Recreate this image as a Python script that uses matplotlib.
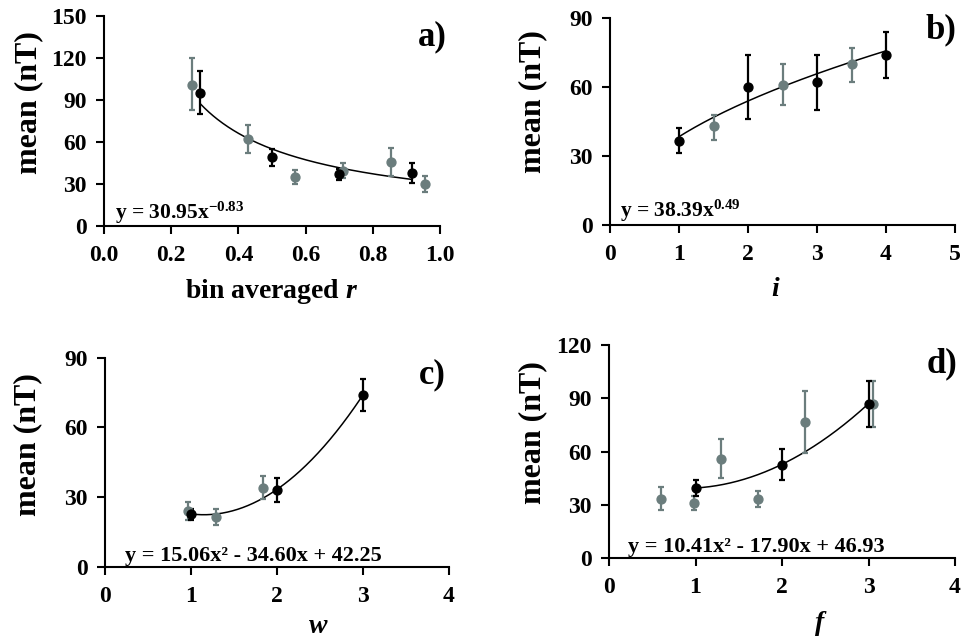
import numpy as np
import matplotlib
matplotlib.use("Agg")
import matplotlib.pyplot as plt

plt.rcParams['font.family'] = ['Liberation Serif', 'DejaVu Serif']
plt.rcParams['font.weight'] = 'bold'
plt.rcParams['mathtext.fontset'] = 'custom'
plt.rcParams['mathtext.rm'] = 'Liberation Serif:bold'
plt.rcParams['mathtext.bf'] = 'Liberation Serif:bold'
plt.rcParams['mathtext.it'] = 'Liberation Serif:bold:italic'

GRAY = '#6b7d7d'

# ---- panel a) ----
a_gray_x = [0.263, 0.43, 0.567, 0.71, 0.855, 0.955]
a_gray_y = [101, 62, 35, 39, 46, 30]
a_gray_lo = [83, 52, 30, 34, 36, 24]
a_gray_hi = [120, 72, 40, 45, 56, 36]
a_blk_x = [0.287, 0.50, 0.70, 0.917]
a_blk_y = [95, 49, 37, 38]
a_blk_lo = [80, 43, 33, 31]
a_blk_hi = [111, 55, 41, 45]
a_fit = [30.95, -0.83]  # power law coefficients

# ---- panel b) ----
b_gray_x = [1.5, 2.5, 3.5]
b_gray_y = [43, 61, 70]
b_gray_lo = [37, 52, 62]
b_gray_hi = [48, 70, 77]
b_blk_x = [1, 2, 3, 4]
b_blk_y = [36.5, 60, 62, 74]
b_blk_lo = [31.5, 46, 50, 64]
b_blk_hi = [42, 74, 74, 84]
b_fit = [38.39, 0.49]

# ---- panel c) ----
c_gray_x = [0.97, 1.29, 1.84]
c_gray_y = [24, 21.5, 34]
c_gray_lo = [20, 18, 29]
c_gray_hi = [28, 25, 39]
c_blk_x = [1, 2, 3]
c_blk_y = [22.5, 33, 74]
c_blk_lo = [20, 28, 67]
c_blk_hi = [25, 38, 81]
c_fit = [15.06, -34.60, 42.25]

# ---- panel d) ----
d_gray_x = [0.6, 0.98, 1.3, 1.72, 2.27, 3.05]
d_gray_y = [33.5, 31, 56, 33.5, 76.5, 87]
d_gray_lo = [27, 27, 45, 29, 59, 74]
d_gray_hi = [40, 35, 67, 38, 94, 100]
d_blk_x = [1, 2, 3]
d_blk_y = [39.5, 52.5, 87]
d_blk_lo = [35, 44, 74]
d_blk_hi = [44, 61.5, 100]
d_fit = [10.41, -17.90, 46.93]

a_xticks = [0.0, 0.2, 0.4, 0.6, 0.8, 1.0]
a_xticklabels = ['0.0', '0.2', '0.4', '0.6', '0.8', '1.0']
a_yticks = [0, 30, 60, 90, 120, 150]
b_xticks = [0, 1, 2, 3, 4, 5]
b_yticks = [0, 30, 60, 90]
c_xticks = [0, 1, 2, 3, 4]
c_yticks = [0, 30, 60, 90]
d_xticks = [0, 1, 2, 3, 4]
d_yticks = [0, 30, 60, 90, 120]

W, H = 963, 639
fig = plt.figure(figsize=(W / 100, H / 100), dpi=100)


def make_ax(l, r, t, b):
    return fig.add_axes([l / W, 1 - b / H, (r - l) / W, (b - t) / H])


def style(ax, xlim, ylim, xticks, yticks, xticklabels=None):
    ax.set_xlim(*xlim)
    ax.set_ylim(*ylim)
    ax.set_xticks(xticks)
    if xticklabels is not None:
        ax.set_xticklabels(xticklabels)
    ax.set_yticks(yticks)
    for s in ['top', 'right']:
        ax.spines[s].set_visible(False)
    for s in ['left', 'bottom']:
        ax.spines[s].set_linewidth(1.5)
    ax.tick_params(axis='both', direction='out', length=5.5, width=1.5,
                   labelsize=17)
    ax.tick_params(axis='x', pad=8.5)
    ax.tick_params(axis='y', pad=7)
    for lab in ax.get_xticklabels() + ax.get_yticklabels():
        lab.set_fontweight('bold')
    ax.set_facecolor('none')


def points(ax, x, y, lo, hi, color):
    y = np.asarray(y, float)
    err = [y - np.asarray(lo, float), np.asarray(hi, float) - y]
    ax.errorbar(x, y, yerr=err, fmt='o', color=color, ecolor=color,
                markersize=6.4, elinewidth=1.6, capsize=2.2, capthick=1.6,
                zorder=3)


def ylab(ax, xf, yf):
    ax.set_ylabel('mean (nT)', fontsize=23, fontweight='bold')
    ax.yaxis.set_label_coords(xf, yf)
    ax.yaxis.label.set_va('center')


# ---------- a ----------
ax = make_ax(104, 440, 16, 226)
style(ax, (0, 1), (0, 150), a_xticks, a_yticks, a_xticklabels)
points(ax, a_gray_x, a_gray_y, a_gray_lo, a_gray_hi, GRAY)
points(ax, a_blk_x, a_blk_y, a_blk_lo, a_blk_hi, 'black')
xx = np.linspace(min(a_blk_x), max(a_blk_x), 200)
ax.plot(xx, a_fit[0] * xx ** a_fit[1], color='black', lw=1.1, zorder=2)
ax.text(0.033, 0.033, r'y = 30.95x$^{\mathrm{-0.83}}$', transform=ax.transAxes,
        fontsize=15.5, fontweight='bold', va='baseline', ha='left')
ax.text(0.976, 0.90, 'a)', transform=ax.transAxes, fontsize=25,
        fontweight='bold', ha='center', va='center')
ylab(ax, -0.223, 0.586)
ax.set_xlabel('bin averaged $\\mathit{r}$', fontsize=20, fontweight='bold')
ax.xaxis.set_label_coords(0.5, -0.243)

# ---------- b ----------
ax = make_ax(610, 955, 18, 225)
style(ax, (0, 5), (0, 90), b_xticks, b_yticks)
points(ax, b_gray_x, b_gray_y, b_gray_lo, b_gray_hi, GRAY)
points(ax, b_blk_x, b_blk_y, b_blk_lo, b_blk_hi, 'black')
xx = np.linspace(min(b_blk_x), max(b_blk_x), 200)
ax.plot(xx, b_fit[0] * xx ** b_fit[1], color='black', lw=1.1, zorder=2)
ax.text(0.029, 0.039, r'y = 38.39x$^{\mathrm{0.49}}$', transform=ax.transAxes,
        fontsize=15.5, fontweight='bold', va='baseline', ha='left')
ax.text(0.96, 0.942, 'b)', transform=ax.transAxes, fontsize=25,
        fontweight='bold', ha='center', va='center')
ylab(ax, -0.223, 0.594)
ax.set_xlabel('i', fontsize=20, fontweight='bold', style='italic')
ax.xaxis.set_label_coords(0.478, -0.25)

# ---------- c ----------
ax = make_ax(105, 449, 357.7, 566.7)
style(ax, (0, 4), (0, 90), c_xticks, c_yticks)
points(ax, c_gray_x, c_gray_y, c_gray_lo, c_gray_hi, GRAY)
points(ax, c_blk_x, c_blk_y, c_blk_lo, c_blk_hi, 'black')
xx = np.linspace(min(c_blk_x), max(c_blk_x), 200)
ax.plot(xx, np.polyval(c_fit, xx), color='black', lw=1.1, zorder=2)
ax.text(0.058, 0.029, 'y = 15.06x² - 34.60x + 42.25', transform=ax.transAxes,
        fontsize=16, fontweight='bold', va='baseline', ha='left')
ax.text(0.951, 0.917, 'c)', transform=ax.transAxes, fontsize=25,
        fontweight='bold', ha='center', va='center')
ylab(ax, -0.224, 0.582)
ax.set_xlabel('w', fontsize=20, fontweight='bold', style='italic')
ax.xaxis.set_label_coords(0.619, -0.228)

# ---------- d ----------
ax = make_ax(609, 955, 345, 558)
style(ax, (0, 4), (0, 120), d_xticks, d_yticks)
points(ax, d_gray_x, d_gray_y, d_gray_lo, d_gray_hi, GRAY)
points(ax, d_blk_x, d_blk_y, d_blk_lo, d_blk_hi, 'black')
xx = np.linspace(min(d_blk_x), max(d_blk_x), 200)
ax.plot(xx, np.polyval(d_fit, xx), color='black', lw=1.1, zorder=2)
ax.text(0.055, 0.030, 'y = 10.41x² - 17.90x + 46.93', transform=ax.transAxes,
        fontsize=16, fontweight='bold', va='baseline', ha='left')
ax.text(0.962, 0.911, 'd)', transform=ax.transAxes, fontsize=25,
        fontweight='bold', ha='center', va='center')
ylab(ax, -0.22, 0.59)
ax.set_xlabel('f', fontsize=20, fontweight='bold', style='italic')
ax.xaxis.set_label_coords(0.61, -0.25)

fig.savefig('out.png', dpi=100)
